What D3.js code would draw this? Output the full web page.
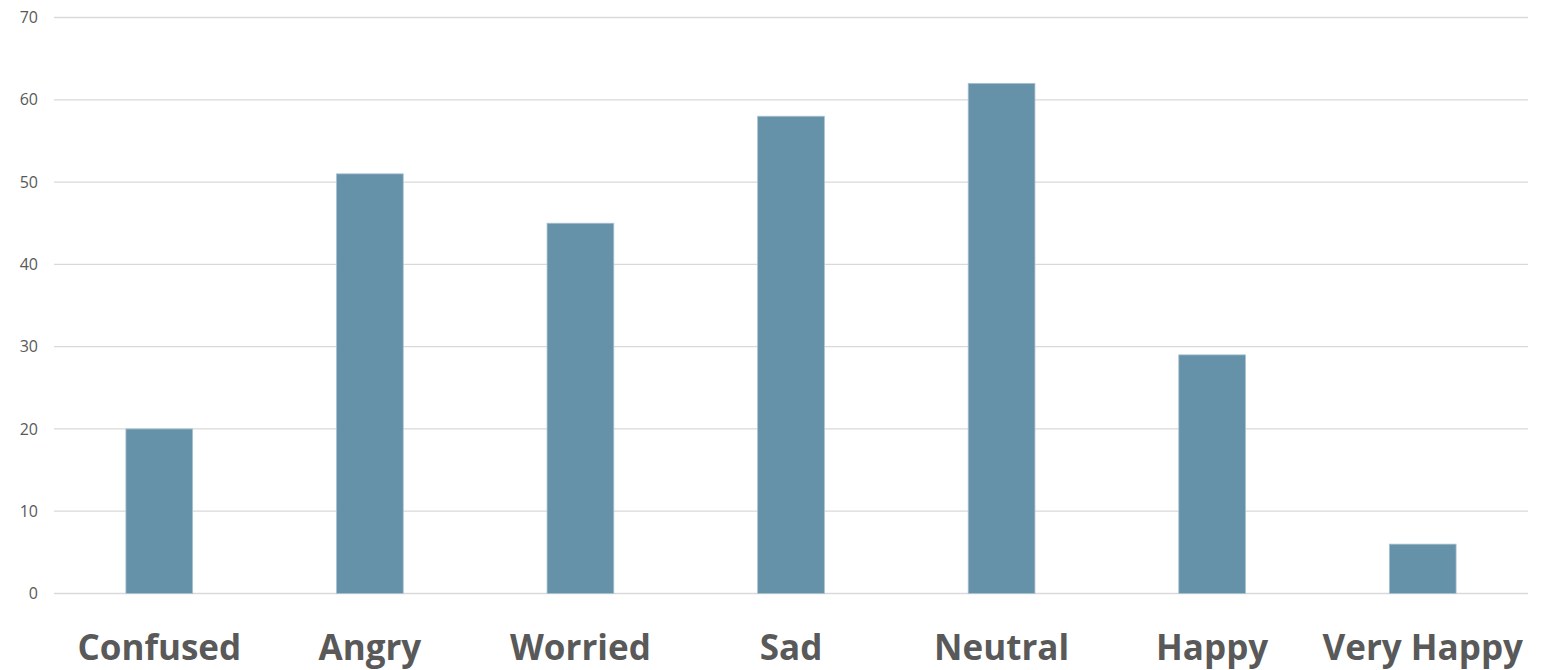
<!DOCTYPE html>
<html><head><meta charset="utf-8">
<script src="https://cdn.jsdelivr.net/npm/d3@7"></script>
<style>body{margin:0;background:#fff;}svg{display:block;}</style>
</head><body>
<script>
const categories = ["Confused","Angry","Worried","Sad","Neutral","Happy","Very Happy"];
const values = [20, 51, 45, 58, 62, 29, 6];
const yTicks = [0,10,20,30,40,50,60,70];

const W = 1543, H = 670;
const margin = {left: 54, right: 15, top: 17.5, bottom: 76.5};
const svg = d3.select("body").append("svg").attr("width", W).attr("height", H);

const x = d3.scaleBand().domain(categories)
  .range([margin.left, W - margin.right])
  .paddingInner(0.683).paddingOuter(0.3415);
const y = d3.scaleLinear().domain([0,70]).range([H - margin.bottom, margin.top]);

// gridlines
svg.append("g").selectAll("line").data(yTicks).join("line")
  .attr("x1", margin.left).attr("x2", W - margin.right)
  .attr("y1", d => y(d)).attr("y2", d => y(d))
  .attr("stroke", "#d9d9d9").attr("stroke-width", 1.3);

// y axis labels
const yAxis = d3.axisLeft(y).tickValues(yTicks).tickSize(0).tickPadding(16);
const gy = svg.append("g").attr("transform", `translate(${margin.left},0)`).call(yAxis);
gy.select(".domain").remove();
gy.selectAll("text").attr("fill", "#595959").style("font-family", "'Open Sans', sans-serif").style("font-size", "16px");

// bars
svg.append("g").selectAll("rect").data(values).join("rect")
  .attr("x", (d,i) => x(categories[i]))
  .attr("width", x.bandwidth())
  .attr("y", d => y(d))
  .attr("height", d => y(0) - y(d))
  .attr("fill", "#6591a9")
  .attr("stroke", "#a9c3d1").attr("stroke-width", 0.8);

// x axis labels
const xAxis = d3.axisBottom(x).tickSize(0).tickPadding(0);
const gx = svg.append("g").attr("transform", `translate(0,${y(0)})`).call(xAxis);
gx.select(".domain").remove();
gx.selectAll("text").attr("fill", "#595959").attr("dy", null).attr("y", 660 - y(0))
  .style("font-family", "'Open Sans', sans-serif").style("font-weight", "bold").style("font-size", "35px");
</script>
</body></html>
